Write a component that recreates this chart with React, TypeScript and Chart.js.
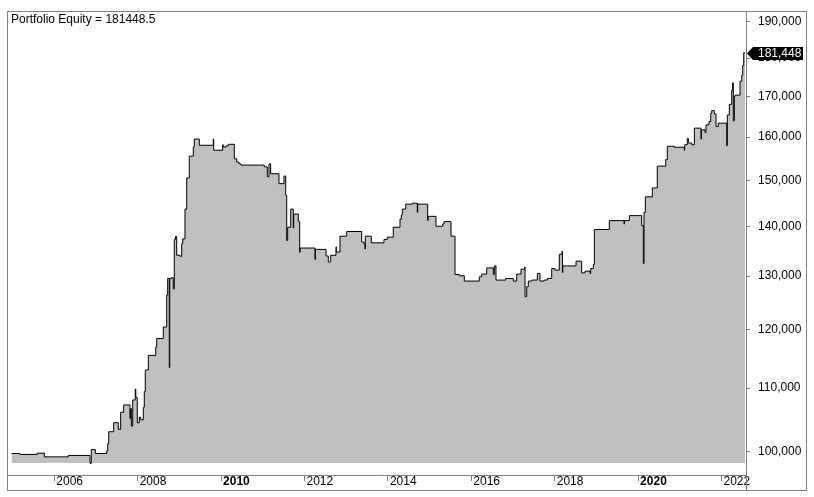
import { useEffect, useRef } from "react"
import { Chart, registerables } from "chart.js"

Chart.register(...registerables)

// Equity curve (decimal year of each change, new level)
const equityDates = [
  2004.978, 2005.177, 2005.592, 2005.76, 2006.336, 2006.856, 2006.887, 2006.983,
  2007.257, 2007.281, 2007.305, 2007.424, 2007.535, 2007.592, 2007.664, 2007.815,
  2007.825, 2007.847, 2007.88, 2007.942, 2007.955, 2007.99, 2008.038, 2008.072,
  2008.134, 2008.158, 2008.182, 2008.254, 2008.432, 2008.456, 2008.614, 2008.695,
  2008.719, 2008.758, 2008.768, 2008.806, 2008.854, 2008.878, 2008.905, 2008.935,
  2009.014, 2009.055, 2009.079, 2009.134, 2009.175, 2009.237, 2009.333, 2009.357,
  2009.477, 2009.813, 2009.823, 2010.038, 2010.05, 2010.118, 2010.173, 2010.317,
  2010.374, 2010.429, 2010.477, 2011.036, 2011.108, 2011.149, 2011.189, 2011.388,
  2011.508, 2011.549, 2011.573, 2011.597, 2011.669, 2011.731, 2011.741, 2011.851,
  2011.885, 2011.895, 2012.252, 2012.262, 2012.516, 2012.571, 2012.628, 2012.755,
  2012.765, 2012.851, 2013.012, 2013.372, 2013.43, 2013.45, 2013.458, 2013.602,
  2013.906, 2013.986, 2014.129, 2014.29, 2014.321, 2014.345, 2014.427, 2014.585,
  2014.705, 2014.715, 2014.954, 2014.964, 2015.153, 2015.314, 2015.345, 2015.513,
  2015.609, 2015.712, 2015.832, 2016.192, 2016.249, 2016.369, 2016.528, 2016.552,
  2016.592, 2016.825, 2017.007, 2017.089, 2017.192, 2017.28, 2017.288, 2017.329,
  2017.367, 2017.449, 2017.583, 2017.647, 2017.743, 2017.823, 2017.928, 2018.007,
  2018.11, 2018.175, 2018.185, 2018.195, 2018.511, 2018.647, 2018.726, 2018.847,
  2018.863, 2018.926, 2018.95, 2019.309, 2019.662, 2019.672, 2019.789, 2020.086,
  2020.125, 2020.141, 2020.173, 2020.341, 2020.46, 2020.662, 2020.7, 2020.868,
  2021.108, 2021.118, 2021.18, 2021.204, 2021.285, 2021.348, 2021.508, 2021.518,
  2021.604, 2021.628, 2021.7, 2021.741, 2021.765, 2021.827, 2021.868, 2021.923,
  2022.125, 2022.139, 2022.187, 2022.245, 2022.265, 2022.283, 2022.307, 2022.33,
  2022.444, 2022.484, 2022.508, 2022.532, 2022.564,
]

const equityValues = [
  99760, 99620, 99810, 99260, 99470, 98300, 100360, 99760,
  100150, 101250, 103060, 104450, 103420, 106100, 107260, 105110,
  106680, 103920, 108060, 109830, 108430, 104450, 105310, 104910,
  106880, 109440, 113010, 115500, 116930, 118440, 120490, 126400,
  129550, 113400, 129550, 129680, 127540, 137320, 137930, 134110,
  133910, 136430, 137440, 143680, 150510, 155500, 157650, 159530,
  158050, 159530, 156880, 158190, 157650, 157890, 158280, 154880,
  154120, 153730, 153440, 153050, 150810, 153730, 151480, 149250,
  150960, 146690, 137120, 139840, 143680, 139700, 142620, 141030,
  134700, 135570, 133270, 135300, 133970, 132790, 134110, 135800,
  134770, 137990, 138960, 136770, 136340, 135360, 137990, 136630,
  137320, 137790, 139840, 141570, 142410, 143680, 144750, 144960,
  142980, 144750, 141240, 142140, 140050, 140530, 141030, 137990,
  130320, 130070, 129050, 129870, 130390, 131610, 130320, 132000,
  129240, 129550, 129050, 130390, 131360, 131800, 126090, 127970,
  129050, 129240, 130510, 129050, 129240, 129550, 131480, 131170,
  134310, 134910, 130700, 132000, 132930, 130640, 130970, 130510,
  131480, 132260, 139370, 141240, 140530, 141240, 142290, 140190,
  132460, 142980, 146340, 148300, 153210, 154710, 157810, 157580,
  156880, 158190, 159700, 158590, 158190, 162140, 159520, 161740,
  161120, 162940, 163760, 165780, 166450, 165610, 162550, 163350,
  157950, 165370, 168000, 171600, 173480, 163900, 170080, 170330,
  173900, 175450, 178060, 181448.5, 181448.5,
]

const yearTicks = [2006, 2008, 2010, 2012, 2014, 2016, 2018, 2020, 2022]
const boldYears = [2010, 2020]
const valueTicks = [100000, 110000, 120000, 130000, 140000, 150000, 160000, 170000, 180000, 190000]
const lastEquity = 181448.5

const FONT = "Arial, 'Liberation Sans', sans-serif"
const FRAME = "#808080"

const framePlugin = {
  id: "frame",
  afterDraw(chart: any) {
    const { ctx, chartArea, scales } = chart
    const right = chartArea.right
    const bottom = chartArea.bottom
    ctx.save()
    ctx.strokeStyle = FRAME
    ctx.lineWidth = 1
    ctx.strokeRect(7.5, 11.5, 799, 479)
    ctx.beginPath()
    ctx.moveTo(right + 0.5, 11)
    ctx.lineTo(right + 0.5, 491)
    ctx.moveTo(7, bottom + 0.5)
    ctx.lineTo(right, bottom + 0.5)
    ctx.stroke()

    // title
    ctx.fillStyle = "#000"
    ctx.font = `12px ${FONT}`
    ctx.textAlign = "left"
    ctx.textBaseline = "alphabetic"
    ctx.fillText(`Portfolio Equity = ${lastEquity}`, 11, 23)

    // last value tag
    const y = Math.round(scales.y.getPixelForValue(lastEquity)) + 0.5
    ctx.beginPath()
    ctx.moveTo(right + 1, y)
    ctx.lineTo(right + 7, y - 6.5)
    ctx.lineTo(803, y - 6.5)
    ctx.lineTo(803, y + 6.5)
    ctx.lineTo(right + 7, y + 6.5)
    ctx.closePath()
    ctx.fill()
    ctx.fillStyle = "#fff"
    ctx.textBaseline = "middle"
    ctx.fillText(Math.floor(lastEquity).toLocaleString("en-US"), 758, y + 0.5)
    ctx.restore()
  },
}

export default function App() {
  const chartRef = useRef<HTMLCanvasElement>(null)
  const chartInstance = useRef<Chart | null>(null)

  useEffect(() => {
    document.body.style.margin = "0"
    if (!chartRef.current) return
    if (chartInstance.current) chartInstance.current.destroy()
    const ctx = chartRef.current.getContext("2d")
    if (!ctx) return

    const points = equityDates.map((d, i) => ({ x: d, y: equityValues[i] }))

    chartInstance.current = new Chart(ctx, {
      type: "line",
      data: {
        datasets: [
          {
            label: "Portfolio Equity",
            data: points,
            borderColor: "#000",
            borderWidth: 1,
            backgroundColor: "#c0c0c0",
            fill: { value: 98340 },
            stepped: true,
            pointRadius: 0,
            tension: 0,
          },
        ],
      },
      options: {
        responsive: true,
        maintainAspectRatio: false,
        animation: false,
        layout: { padding: { left: 7, right: 8, top: 11, bottom: 7 } },
        plugins: {
          legend: { display: false },
          tooltip: { enabled: false },
        },
        scales: {
          x: {
            type: "linear",
            bounds: "data",
            min: 2004.866,
            max: 2022.587,
            afterBuildTicks: (scale: any) => {
              scale.ticks = yearTicks.map((v) => ({ value: v }))
            },
            afterFit: (scale: any) => {
              scale.height = 15
            },
            border: { display: false },
            grid: { drawOnChartArea: false, color: FRAME, tickLength: 6 },
            ticks: {
              autoSkip: false,
              maxRotation: 0,
              align: "start",
              labelOffset: 2,
              padding: -5,
              color: "#000",
              callback: (v: any) => String(v),
              font: (c: any) => ({
                family: FONT,
                size: 12,
                lineHeight: 1,
                weight: c.tick && boldYears.includes(c.tick.value) ? "bold" : "normal",
              }),
            },
          },
          y: {
            type: "logarithmic",
            position: "right",
            bounds: "data",
            min: 96610,
            max: 191920,
            afterBuildTicks: (scale: any) => {
              scale.ticks = valueTicks.map((v) => ({ value: v }))
            },
            afterFit: (scale: any) => {
              scale.width = 60
            },
            border: { display: false },
            grid: { drawOnChartArea: false, color: FRAME, tickLength: 4 },
            ticks: {
              padding: 8,
              color: "#000",
              font: { family: FONT, size: 12 },
              callback: (v: any) => Number(v).toLocaleString("en-US"),
            },
          },
        },
      },
      plugins: [framePlugin],
    })

    return () => {
      if (chartInstance.current) {
        chartInstance.current.destroy()
        chartInstance.current = null
      }
    }
  }, [])

  return (
    <div style={{ position: "relative", width: 814, height: 497, background: "#fff" }}>
      <canvas ref={chartRef} style={{ display: "block" }}></canvas>
    </div>
  )
}
